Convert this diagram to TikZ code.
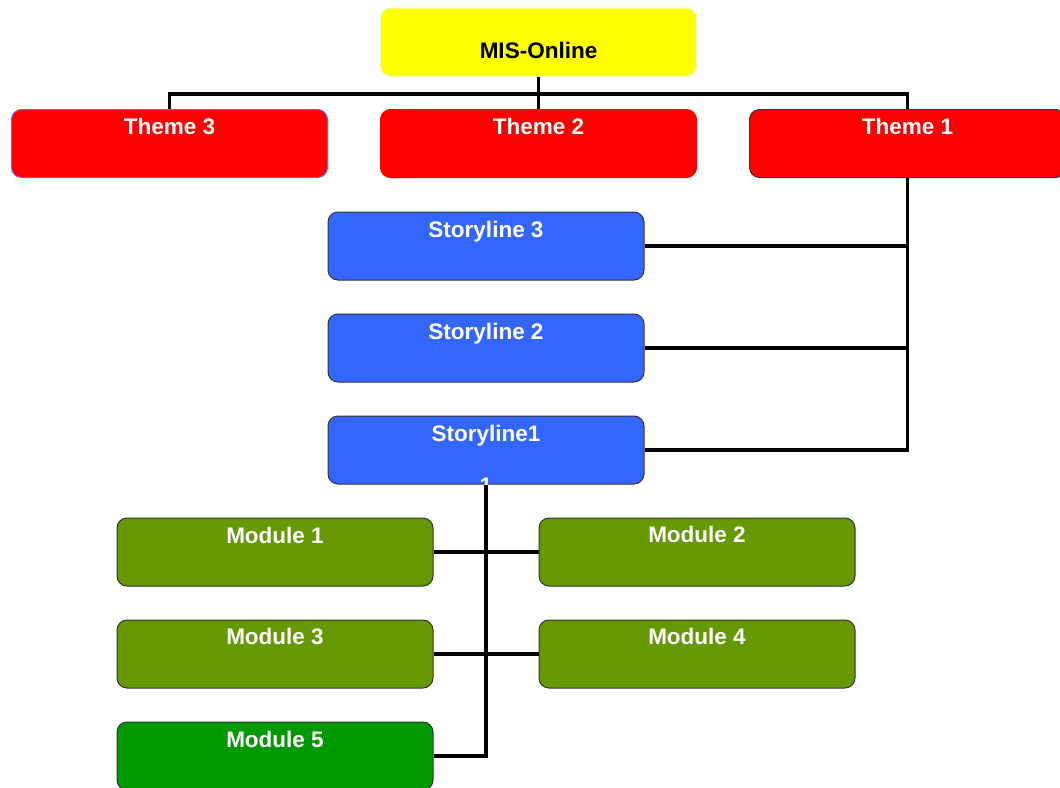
\documentclass[tikz,border=0pt]{standalone}
\usepackage{fontspec}
\setmainfont{Liberation Sans}
\definecolor{myyellow}{HTML}{FFFF00}
\definecolor{myred}{HTML}{FF0000}
\definecolor{myblue}{HTML}{3366FF}
\definecolor{myolive}{HTML}{669900}
\definecolor{mygreen}{HTML}{009900}
\definecolor{bord}{HTML}{333333}
\begin{document}
\begin{tikzpicture}[x=1pt,y=-1pt,
  box/.style={draw=bord,line width=1pt,rounded corners=10pt,minimum width=316pt,minimum height=68pt,inner sep=0pt},
  lbl/.style={anchor=base,font=\fontsize{22.5}{26}\selectfont\bfseries,text=white,inner sep=0pt},
  conn/.style={line width=3.5pt,draw=black}]
\useasboundingbox (0,0) rectangle (1060,787);
\clip (0,0) rectangle (1060,787);
% boxes
\node[box,fill=myyellow,draw=myyellow!60!green!30!white] (mis) at (538.5,42) {};
\node[box,fill=myred,draw=blue!60!white] (t3) at (169.5,143.5) {};
\node[box,fill=myred,draw=myred] (t2) at (538.5,143.5) {};
\node[box,fill=myred] (t1) at (907.5,143.5) {};
\node[box,fill=myblue] (s3) at (486,246) {};
\node[box,fill=myblue] (s2) at (486,348) {};
\node[box,fill=myblue] (s1) at (486,450) {};
\node[box,fill=myolive] (m1) at (275,552) {};
\node[box,fill=myolive] (m2) at (697,552) {};
\node[box,fill=myolive] (m3) at (275,654) {};
\node[box,fill=myolive] (m4) at (697,654) {};
\node[box,fill=mygreen] (m5) at (275,756) {};
% labels
\node[lbl,text=black] (lmis) at ([yshift=-16pt]mis.center) {MIS-Online};
\node[lbl] (lt3) at ([yshift=-25pt]t3.north) {Theme 3};
\node[lbl] (lt2) at ([yshift=-25pt]t2.north) {Theme 2};
\node[lbl] (lt1) at ([yshift=-25pt]t1.north) {Theme 1};
\node[lbl] (ls3) at ([yshift=-26pt]s3.north) {Storyline 3};
\node[lbl] (ls2) at ([yshift=-26pt]s2.north) {Storyline 2};
\node[lbl] (ls1) at ([yshift=-26pt]s1.north) {Storyline1};
\begin{scope}
\clip (s1.south west) rectangle (s1.north east);
\node[lbl] (ls1b) at ([yshift=-9pt]s1.south) {1};
\end{scope}
\node[lbl] (lm1) at ([yshift=-26pt]m1.north) {Module 1};
\node[lbl] (lm2) at ([yshift=-25pt]m2.north) {Module 2};
\node[lbl] (lm3) at ([yshift=-25pt]m3.north) {Module 3};
\node[lbl] (lm4) at ([yshift=-25pt]m4.north) {Module 4};
\node[lbl] (lm5) at ([yshift=-26pt]m5.north) {Module 5};
% connectors
\draw[conn] (t3.north) -- ++(0,-15) -| (t1.north);
\draw[conn] (mis.south) -- (t2.north);
\draw[conn] (t1.south) |- (s1.east);
\draw[conn] (t1.south |- s3.east) -- (s3.east);
\draw[conn] (t1.south |- s2.east) -- (s2.east);
\draw[conn] (s1.south) |- (m5.east);
\draw[conn] (m1.east) -- (m2.west);
\draw[conn] (m3.east) -- (m4.west);
\end{tikzpicture}
\end{document}
